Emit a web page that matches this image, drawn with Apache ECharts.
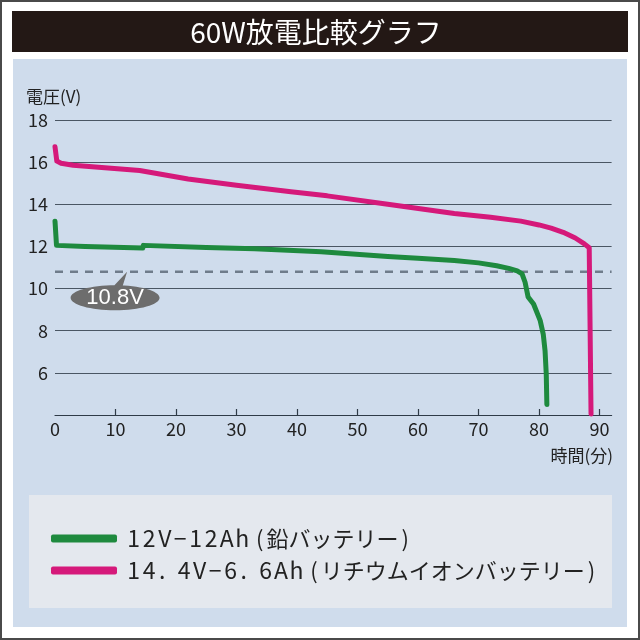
<!DOCTYPE html>
<html><head><meta charset="utf-8">
<script src="https://cdn.jsdelivr.net/npm/echarts@6/dist/echarts.min.js"></script>
<style>html,body{margin:0;padding:0;background:#fff}#c{width:640px;height:640px}</style>
</head><body><div id="c"></div>
<script>
// ---- data ----
const titleText = '60W放電比較グラフ';
const yAxisName = '電圧(V)';
const xAxisName = '時間(分)';
const seriesNames = ['12V−12Ah(鉛バッテリー)', '14.4V−6.6Ah(リチウムイオンバッテリー)'];
const xTicks = [0, 10, 20, 30, 40, 50, 60, 70, 80, 90];
const yTicks = [6, 8, 10, 12, 14, 16, 18];
const leadTime = [0, 0.25, 5, 14.5, 14.6, 25, 33, 44, 55, 60, 66, 70, 73, 75, 76.4, 77.2, 77.7, 78.2, 79.1, 80.2, 80.7, 81.0, 81.2, 81.3];
const leadVolt = [13.2, 12.05, 12.0, 11.92, 12.05, 11.95, 11.89, 11.75, 11.52, 11.44, 11.33, 11.22, 11.08, 10.96, 10.84, 10.7, 10.3, 9.6, 9.27, 8.48, 7.84, 7.05, 5.94, 4.5];
const lithTime = [0, 0.3, 1, 3, 14, 22, 30, 39, 45, 55, 66, 72, 77, 80, 82, 84, 86, 87.5, 88.3, 88.6];
const lithVolt = [16.73, 16.05, 15.95, 15.85, 15.6, 15.2, 14.9, 14.6, 14.4, 14.0, 13.56, 13.38, 13.2, 13.02, 12.87, 12.67, 12.4, 12.12, 11.94, 4.05];
const refVolt = 10.8;
const refLabel = '10.8V';
const refCalloutTime = 12;

const font = "'Noto Sans CJK JP', sans-serif";
const pair = (xs, ys) => xs.map((x, i) => [x, ys[i]]);
// monospaced rendering of the half-width part of a legend label
const spaced = name => name.split('').map(ch => {
  if (/[0-9A-Za-z−]/.test(ch)) return '{w|' + ch + '}';
  if (ch === '.') return '{p|' + ch + '}';
  if (ch === '(') return '{l|' + ch + '}';
  if (ch === ')') return '{r|' + ch + '}';
  return '{n|' + ch + '}';
}).join('');

const chart = echarts.init(document.getElementById('c'), null, {renderer: 'canvas'});
chart.setOption({
  animation: false,
  backgroundColor: '#ffffff',
  textStyle: {fontFamily: font},
  graphic: {elements: [
    {type: 'rect', z: -100, shape: {x: 1, y: 1, width: 638, height: 638}, style: {fill: '#ffffff', stroke: '#4a4a4a', lineWidth: 2}},
    {type: 'rect', z: -99, shape: {x: 12, y: 11, width: 616, height: 41}, style: {fill: '#231815'}},
    {type: 'rect', z: -99, shape: {x: 13, y: 59, width: 614, height: 568}, style: {fill: '#cfdcec'}},
    {type: 'rect', z: -98, shape: {x: 29, y: 495, width: 583, height: 113}, style: {fill: '#e4e8ee'}},
    {type: 'text', z: 100, x: 316, y: 32, style: {text: titleText, fill: '#ffffff', font: '28px ' + font, textAlign: 'center', textVerticalAlign: 'middle'}},
    {type: 'text', z: 100, x: 26, y: 97, style: {text: yAxisName, fill: '#222', font: '17px ' + font, textAlign: 'left', textVerticalAlign: 'middle'}},
    {type: 'text', z: 100, x: 613, y: 456, style: {text: xAxisName, fill: '#222', font: '17px ' + font, textAlign: 'right', textVerticalAlign: 'middle'}}
  ]},
  grid: {left: 55, right: 28.4, top: 120, bottom: 225},
  legend: {
    orient: 'vertical', left: 46, top: 522, itemGap: 9,
    itemWidth: 66, itemHeight: 8, icon: 'roundRect',
    data: seriesNames,
    formatter: spaced,
    textStyle: {fontSize: 22, color: '#222', fontFamily: font, padding: [0, 0, 0, 4],
      rich: {
        w: {fontSize: 23, color: '#222', fontFamily: font, width: 15.5, align: 'center'},
        p: {fontSize: 23, color: '#222', fontFamily: font, padding: [0, 11, 0, 2]},
        l: {fontSize: 22, color: '#222', fontFamily: font, padding: [0, 3, 0, 6]},
        r: {fontSize: 22, color: '#222', fontFamily: font, padding: [0, 0, 0, 3]},
        n: {fontSize: 22, color: '#222', fontFamily: font}
      }}
  },
  xAxis: {
    type: 'value', min: 0, max: 92, interval: 10,
    axisLine: {lineStyle: {color: '#2f3b47', width: 1.2}},
    axisTick: {show: true, inside: true, length: 6, lineStyle: {color: '#2f3b47', width: 1.2}, customValues: xTicks.slice(1)},
    axisLabel: {fontSize: 18, color: '#222', margin: 5, customValues: xTicks},
    splitLine: {show: false}
  },
  yAxis: {
    type: 'value', min: 4, max: 18, interval: 2,
    axisLine: {show: false}, axisTick: {show: false},
    axisLabel: {fontSize: 18, color: '#222', margin: 7, customValues: yTicks},
    splitLine: {lineStyle: {color: '#4a5663', width: 1.1}}
  },
  series: [
    {name: seriesNames[0], type: 'line', data: pair(leadTime, leadVolt), showSymbol: false, symbol: 'none', z: 5,
     lineStyle: {color: '#1e8a3e', width: 5, cap: 'round', join: 'round'}, itemStyle: {color: '#1e8a3e'}},
    {name: seriesNames[1], type: 'line', data: pair(lithTime, lithVolt), showSymbol: false, symbol: 'none', z: 5,
     lineStyle: {color: '#d5197a', width: 5, cap: 'round', join: 'round'}, itemStyle: {color: '#d5197a'}},
    {name: 'ref', type: 'line', data: [[0, refVolt], [92, refVolt]], showSymbol: false, symbol: 'none', z: 4, silent: true,
     lineStyle: {color: '#6f7c8b', width: 2.5, type: [8, 7]},
     markPoint: {
       symbol: 'path://M0.5 26 C0.5 19.1 20.4 13.5 45 13.5 C69.6 13.5 89.5 19.1 89.5 26 C89.5 32.9 69.6 38.5 45 38.5 C20.4 38.5 0.5 32.9 0.5 26 Z M42 16 L57 0 L52 16 Z',
       symbolSize: [89, 38.5], symbolKeepAspect: false, symbolOffset: [-12.5, 19.25],
       itemStyle: {color: '#6d6d6d'},
       label: {show: true, position: 'inside', offset: [0, 7], formatter: refLabel, color: '#ffffff', fontSize: 22, fontFamily: "'Liberation Sans', sans-serif"},
       data: [{coord: [refCalloutTime, refVolt]}]
     }}
  ]
});
</script></body></html>
